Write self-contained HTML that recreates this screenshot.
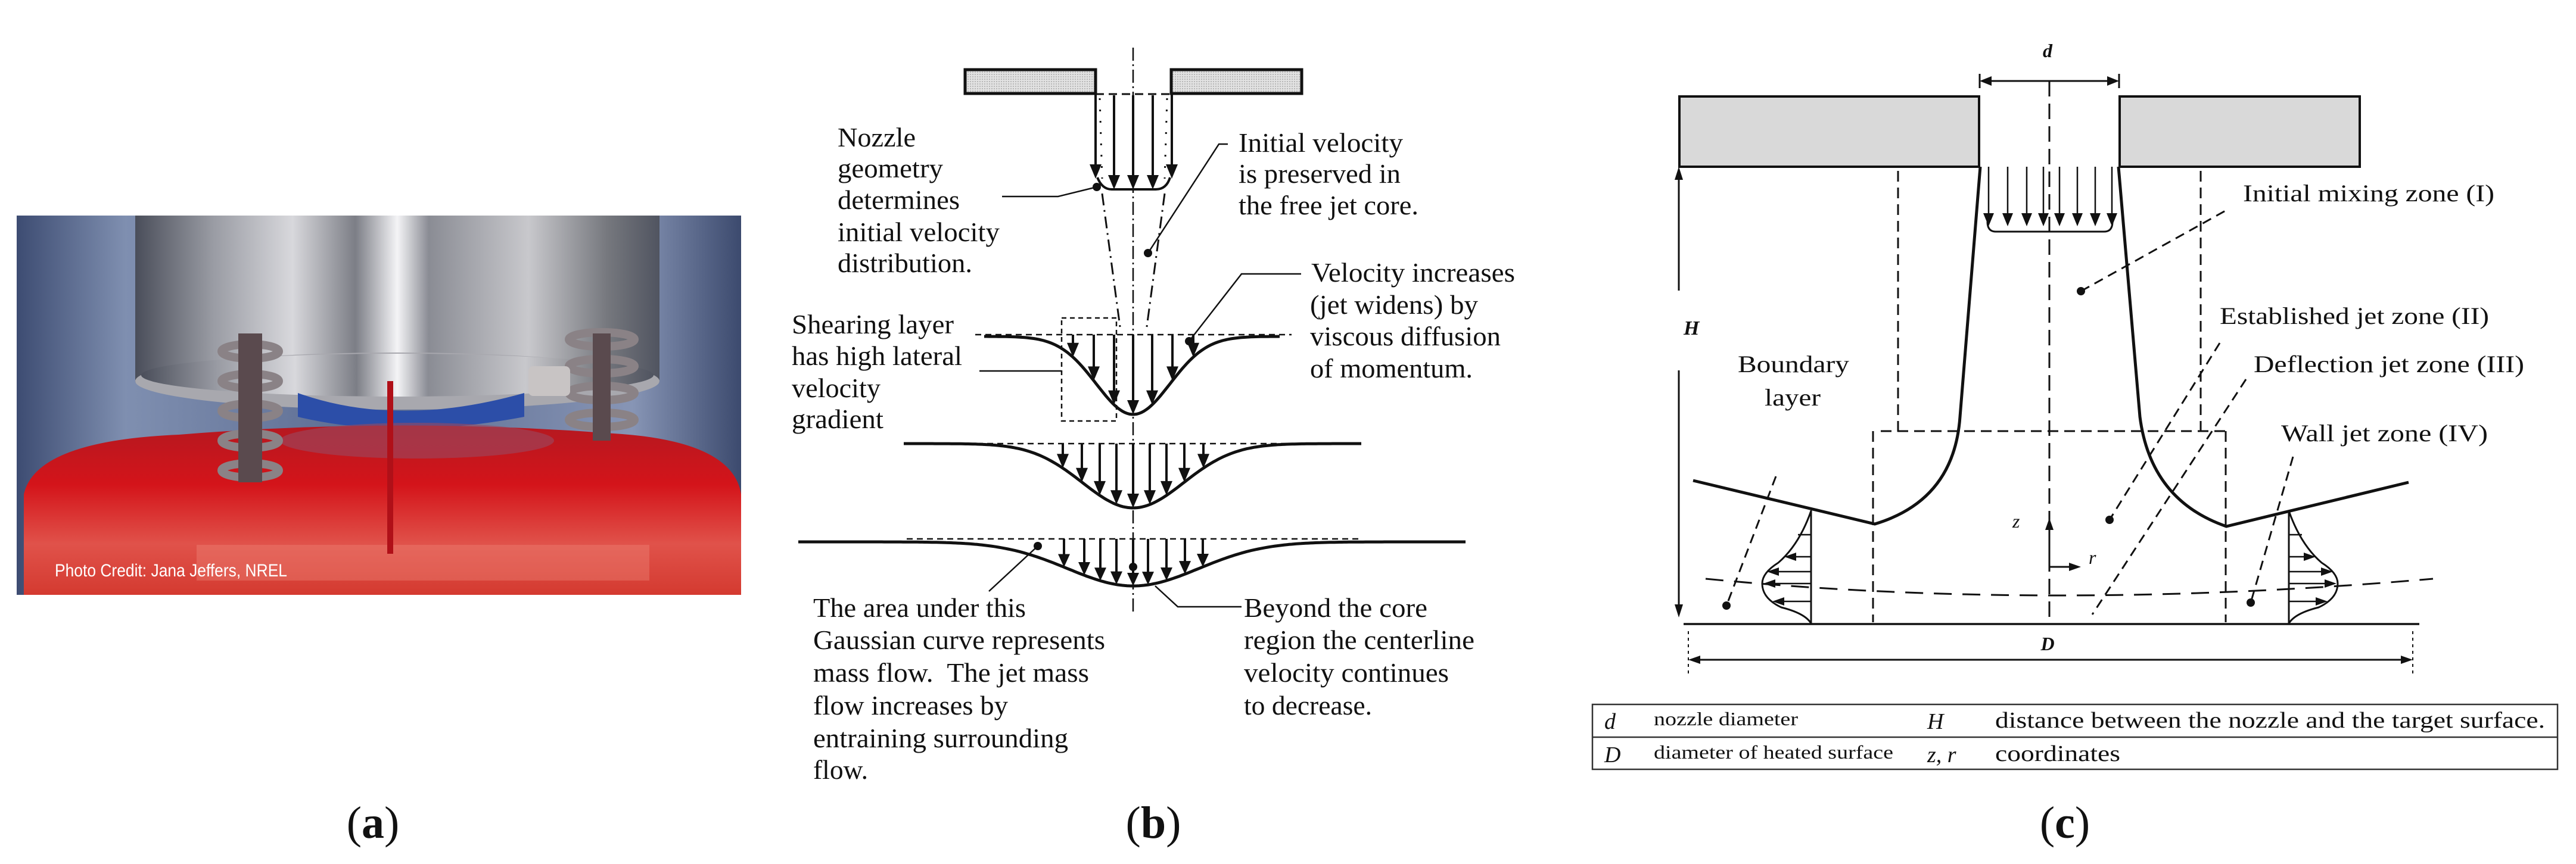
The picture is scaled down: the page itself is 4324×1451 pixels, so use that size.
<!DOCTYPE html>
<html><head><meta charset="utf-8">
<style>
html,body{margin:0;padding:0;background:#fff;}
svg{display:block;}
.s{font-family:"Liberation Serif",serif;fill:#111;}
</style></head>
<body>
<svg id="m" width="4324" height="1451" viewBox="0 0 4324 1451" xmlns="http://www.w3.org/2000/svg">
<defs>
<linearGradient id="bg" x1="0" x2="1" y1="0" y2="0">
<stop offset="0" stop-color="#3d4c72"/><stop offset="0.15" stop-color="#7f8fb0"/><stop offset="0.5" stop-color="#5a6a90"/><stop offset="0.85" stop-color="#8795b5"/><stop offset="1" stop-color="#3c4a6e"/></linearGradient>
<linearGradient id="cyl" x1="0" x2="1" y1="0" y2="0">
<stop offset="0" stop-color="#4a4e5a"/><stop offset="0.15" stop-color="#9a9ca4"/><stop offset="0.3" stop-color="#d8d8dc"/><stop offset="0.42" stop-color="#7c7e86"/><stop offset="0.5" stop-color="#f4f4f6"/><stop offset="0.56" stop-color="#8a8c94"/><stop offset="0.75" stop-color="#c8c8cc"/><stop offset="0.9" stop-color="#76787e"/><stop offset="1" stop-color="#505460"/></linearGradient>
<linearGradient id="red" x1="0" x2="0" y1="0" y2="1">
<stop offset="0" stop-color="#b51820"/><stop offset="0.35" stop-color="#d4141a"/><stop offset="0.7" stop-color="#e0524a"/><stop offset="1" stop-color="#d43a30"/></linearGradient>
<pattern id="dots" width="4" height="4" patternUnits="userSpaceOnUse"><rect width="4" height="4" fill="#e2e2e2"/><rect width="2" height="2" fill="#b8b8b8"/></pattern>
</defs>

<!-- (a) photo -->
<g>
<rect x="28" y="362" width="1216" height="637" fill="url(#bg)"/>
<rect x="227" y="362" width="880" height="280" fill="url(#cyl)"/>
<ellipse cx="667" cy="640" rx="440" ry="48" fill="#a8a8ae"/>
<ellipse cx="667" cy="630" rx="430" ry="36" fill="url(#cyl)"/>
<path d="M500,660 Q667,720 880,660 L880,700 Q667,740 500,700Z" fill="#2c4ea8"/>
<path d="M40,999 L40,830 Q60,740 300,730 Q667,700 1030,728 Q1230,740 1244,830 L1244,999Z" fill="url(#red)"/>
<ellipse cx="700" cy="740" rx="230" ry="30" fill="#9a4a60" opacity="0.6"/>
<rect x="330" y="915" width="760" height="60" fill="#f09080" opacity="0.35"/>
<g fill="none" stroke="#8a8286" stroke-width="14">
<ellipse cx="420" cy="590" rx="48" ry="12"/><ellipse cx="420" cy="640" rx="48" ry="12"/><ellipse cx="420" cy="690" rx="48" ry="12"/><ellipse cx="420" cy="740" rx="48" ry="12"/><ellipse cx="420" cy="790" rx="48" ry="12"/>
<ellipse cx="1010" cy="570" rx="55" ry="12"/><ellipse cx="1010" cy="615" rx="55" ry="12"/><ellipse cx="1010" cy="660" rx="55" ry="12"/><ellipse cx="1010" cy="705" rx="55" ry="12"/>
</g>
<rect x="400" y="560" width="40" height="250" fill="#5a4a4e"/>
<rect x="995" y="560" width="30" height="180" fill="#5a4a4e"/>
<rect x="887" y="615" width="70" height="50" rx="8" fill="#c8c4c4"/>
<rect x="650" y="640" width="10" height="290" fill="#b01018"/>
<text x="92" y="968" font-family="Liberation Sans,sans-serif" font-size="30" fill="#fff" textLength="390" lengthAdjust="spacingAndGlyphs">Photo Credit: Jana Jeffers, NREL</text>
</g>
<text class="s" x="626" y="1407" font-size="76" text-anchor="middle">(<tspan font-weight="bold">a</tspan>)</text>

<!-- (b) -->
<g id="b" stroke="#111" fill="none">
<rect x="1620" y="117" width="219" height="40" fill="url(#dots)" stroke-width="5"/>
<rect x="1966" y="117" width="219" height="40" fill="url(#dots)" stroke-width="5"/>
<line x1="1902" y1="80" x2="1902" y2="1032" stroke-width="2.5" stroke-dasharray="22 6 3 6"/>
<line x1="1839" y1="158" x2="1966" y2="158" stroke-width="3" stroke-dasharray="14 8"/>
<line x1="1846" y1="165" x2="1850" y2="300" stroke-width="3" stroke-dasharray="3 16"/>
<line x1="1959" y1="165" x2="1955" y2="300" stroke-width="3" stroke-dasharray="3 16"/>
<path d="M1842,298 Q1850,318 1866,318 L1940,318 Q1958,318 1964,298" stroke-width="4"/>
<line x1="1850" y1="325" x2="1881" y2="556" stroke-width="3" stroke-dasharray="20 8 3 8"/>
<line x1="1955" y1="325" x2="1924" y2="556" stroke-width="3" stroke-dasharray="20 8 3 8"/>
<rect x="1782" y="534" width="92" height="173" stroke-width="2.5" stroke-dasharray="8 6"/>
<polyline points="1682,330 1776,330 1841,314" stroke-width="2.5"/>
<polyline points="2061,242 2046,242 1927,425" stroke-width="2.5"/>
<polyline points="2184,460 2084,460 1996,573" stroke-width="2.5"/>
<line x1="1644" y1="623" x2="1782" y2="623" stroke-width="2.5"/>
<line x1="1660" y1="993" x2="1742" y2="917" stroke-width="2.5"/>
<polyline points="2084,1019 1977,1019 1939,984" stroke-width="2.5"/>
</g>
<g fill="#111">
<circle cx="1841" cy="314" r="7"/><circle cx="1927" cy="425" r="7"/><circle cx="1996" cy="573" r="7"/><circle cx="1742" cy="917" r="7"/><circle cx="1902" cy="952" r="7"/>
</g>
<g class="s" font-size="46">
<text x="1406" y="246" textLength="131" lengthAdjust="spacingAndGlyphs">Nozzle</text>
<text x="1406" y="298" textLength="177" lengthAdjust="spacingAndGlyphs">geometry</text>
<text x="1406" y="351" textLength="205" lengthAdjust="spacingAndGlyphs">determines</text>
<text x="1406" y="405" textLength="272" lengthAdjust="spacingAndGlyphs">initial velocity</text>
<text x="1406" y="457" textLength="226" lengthAdjust="spacingAndGlyphs">distribution.</text>
<text x="2079" y="255" textLength="276" lengthAdjust="spacingAndGlyphs">Initial velocity</text>
<text x="2079" y="307" textLength="272" lengthAdjust="spacingAndGlyphs">is preserved in</text>
<text x="2079" y="360" textLength="302" lengthAdjust="spacingAndGlyphs">the free jet core.</text>
<text x="2201" y="473" textLength="342" lengthAdjust="spacingAndGlyphs">Velocity increases</text>
<text x="2199" y="527" textLength="282" lengthAdjust="spacingAndGlyphs">(jet widens) by</text>
<text x="2199" y="580" textLength="320" lengthAdjust="spacingAndGlyphs">viscous diffusion</text>
<text x="2199" y="634" textLength="273" lengthAdjust="spacingAndGlyphs">of momentum.</text>
<text x="1329" y="560" textLength="272" lengthAdjust="spacingAndGlyphs">Shearing layer</text>
<text x="1329" y="613" textLength="286" lengthAdjust="spacingAndGlyphs">has high lateral</text>
<text x="1329" y="667" textLength="149" lengthAdjust="spacingAndGlyphs">velocity</text>
<text x="1329" y="719" textLength="154" lengthAdjust="spacingAndGlyphs">gradient</text>
<text x="1365" y="1036" textLength="357" lengthAdjust="spacingAndGlyphs">The area under this</text>
<text x="1365" y="1090" textLength="490" lengthAdjust="spacingAndGlyphs">Gaussian curve represents</text>
<text x="1365" y="1145" textLength="463" lengthAdjust="spacingAndGlyphs" xml:space="preserve">mass flow.  The jet mass</text>
<text x="1365" y="1200" textLength="327" lengthAdjust="spacingAndGlyphs">flow increases by</text>
<text x="1365" y="1255" textLength="428" lengthAdjust="spacingAndGlyphs">entraining surrounding</text>
<text x="1365" y="1308" textLength="92" lengthAdjust="spacingAndGlyphs">flow.</text>
<text x="2088" y="1036" textLength="308" lengthAdjust="spacingAndGlyphs">Beyond the core</text>
<text x="2088" y="1090" textLength="387" lengthAdjust="spacingAndGlyphs">region the centerline</text>
<text x="2088" y="1145" textLength="344" lengthAdjust="spacingAndGlyphs">velocity continues</text>
<text x="2088" y="1200" textLength="215" lengthAdjust="spacingAndGlyphs">to decrease.</text>
</g>
<text class="s" x="1936" y="1407" font-size="76" text-anchor="middle">(<tspan font-weight="bold">b</tspan>)</text>

<!-- (c) -->
<g stroke="#111" fill="none">
<rect x="2819" y="162" width="503" height="118" fill="#d9d9d9" stroke-width="4"/>
<rect x="3558" y="162" width="403" height="118" fill="#d9d9d9" stroke-width="4"/>
<line x1="3323" y1="124" x2="3323" y2="148" stroke-width="3"/>
<line x1="3557" y1="124" x2="3557" y2="148" stroke-width="3"/>
<line x1="3440" y1="136" x2="3440" y2="1046" stroke-width="3" stroke-dasharray="26 12"/>
<line x1="3186" y1="287" x2="3186" y2="727" stroke-width="3" stroke-dasharray="18 10"/>
<line x1="3694" y1="287" x2="3694" y2="727" stroke-width="3" stroke-dasharray="18 10"/>
<line x1="3157" y1="724" x2="3736" y2="724" stroke-width="3" stroke-dasharray="18 10"/>
<line x1="3144" y1="724" x2="3144" y2="1045" stroke-width="3" stroke-dasharray="18 10"/>
<line x1="3736" y1="724" x2="3736" y2="1045" stroke-width="3" stroke-dasharray="18 10"/>
<path d="M3324,280 L3290,700 Q3280,840 3147,880 L2842,807" stroke-width="5"/>
<path d="M3556,280 L3592,700 Q3610,840 3737,884 L4043,810" stroke-width="5"/>
<line x1="2826" y1="1048" x2="4061" y2="1048" stroke-width="3.5"/>
<line x1="2834" y1="1060" x2="2834" y2="1136" stroke-width="2" stroke-dasharray="5 6"/>
<line x1="4050" y1="1060" x2="4050" y2="1136" stroke-width="2" stroke-dasharray="5 6"/>
<line x1="2850" y1="1108" x2="4034" y2="1108" stroke-width="3"/>
<line x1="3340" y1="136" x2="3540" y2="136" stroke-width="3"/>
<line x1="2818" y1="300" x2="2818" y2="488" stroke-width="3"/>
<line x1="2818" y1="622" x2="2818" y2="1022" stroke-width="3"/>
<path d="M2863,972 Q3440,1028 4084,972" stroke-width="3" stroke-dasharray="30 18"/>
<path d="M3336,372 Q3336,389 3350,389 L3532,389 Q3546,389 3546,372" stroke-width="3"/>
<line x1="3040" y1="857" x2="3040" y2="1048" stroke-width="3"/>
<path d="M3040,858 Q3020,915 2985,945 Q2958,962 2958,980 Q2958,1005 2990,1020 Q3030,1030 3040,1047" stroke-width="3"/>
<line x1="3842" y1="857" x2="3842" y2="1048" stroke-width="3"/>
<path d="M3842,858 Q3862,915 3897,945 Q3924,962 3924,980 Q3924,1005 3892,1020 Q3852,1030 3842,1047" stroke-width="3"/>
<line x1="3440" y1="952" x2="3440" y2="885" stroke-width="3"/>
<line x1="3440" y1="952" x2="3480" y2="952" stroke-width="3"/>
<line x1="3493" y1="489" x2="3739" y2="352" stroke-width="3" stroke-dasharray="16 10"/>
<line x1="3726" y1="576" x2="3541" y2="873" stroke-width="3" stroke-dasharray="16 10"/>
<line x1="3770" y1="637" x2="3512" y2="1032" stroke-width="3" stroke-dasharray="16 10"/>
<line x1="3849" y1="767" x2="3778" y2="1012" stroke-width="3" stroke-dasharray="16 10"/>
<line x1="2981" y1="800" x2="2898" y2="1017" stroke-width="3" stroke-dasharray="16 10"/>
</g>
<g id="carr" fill="#111" stroke="#111"></g>
<g fill="#111">
<circle cx="3493" cy="489" r="7"/><circle cx="3541" cy="873" r="7"/><circle cx="2898" cy="1017" r="7"/><circle cx="3778" cy="1012" r="7"/>
<polygon points="3323,136 3343,128 3343,144"/><polygon points="3557,136 3537,128 3537,144"/>
<polygon points="2834,1108 2854,1101 2854,1115"/><polygon points="4050,1108 4030,1101 4030,1115"/>
<polygon points="2818,280 2811,302 2825,302"/><polygon points="2818,1037 2811,1015 2825,1015"/>
<polygon points="3440,870 3433,890 3447,890"/><polygon points="3493,952 3473,945 3473,959"/>
</g>
<g class="s" font-size="40">
<text x="3437" y="96" font-size="32" font-style="italic" font-weight="bold" text-anchor="middle">d</text>
<text x="2826" y="562" font-size="34" font-style="italic" font-weight="bold">H</text>
<text x="3437" y="1092" font-size="32" font-style="italic" font-weight="bold" text-anchor="middle">D</text>
<text x="3378" y="886" font-size="32" font-style="italic">z</text>
<text x="3506" y="947" font-size="32" font-style="italic">r</text>
<text x="3765" y="338" textLength="422" lengthAdjust="spacingAndGlyphs">Initial mixing zone (I)</text>
<text x="3726" y="544" textLength="452" lengthAdjust="spacingAndGlyphs">Established jet zone (II)</text>
<text x="3783" y="625" textLength="454" lengthAdjust="spacingAndGlyphs">Deflection jet zone (III)</text>
<text x="3829" y="741" textLength="347" lengthAdjust="spacingAndGlyphs">Wall jet zone (IV)</text>
<text x="2917" y="625" textLength="187" lengthAdjust="spacingAndGlyphs">Boundary</text>
<text x="2962" y="681" textLength="94" lengthAdjust="spacingAndGlyphs">layer</text>
</g>
<g stroke="#333" fill="none" stroke-width="2.5">
<rect x="2673" y="1183" width="1620" height="109"/>
<line x1="2673" y1="1238" x2="4293" y2="1238"/>
</g>
<g class="s">
<text x="2693" y="1224" font-size="38" font-style="italic">d</text>
<text x="2776" y="1218" font-size="32" textLength="242" lengthAdjust="spacingAndGlyphs">nozzle diameter</text>
<text x="3235" y="1224" font-size="38" font-style="italic">H</text>
<text x="3349" y="1222" font-size="38" textLength="923" lengthAdjust="spacingAndGlyphs">distance between the nozzle and the target surface.</text>
<text x="2693" y="1280" font-size="38" font-style="italic">D</text>
<text x="2776" y="1274" font-size="32" textLength="402" lengthAdjust="spacingAndGlyphs">diameter of heated surface</text>
<text x="3235" y="1280" font-size="38" font-style="italic">z, r</text>
<text x="3349" y="1278" font-size="38" textLength="210" lengthAdjust="spacingAndGlyphs">coordinates</text>
</g>
<text class="s" x="3466" y="1407" font-size="76" text-anchor="middle">(<tspan font-weight="bold">c</tspan>)</text>
<g id="barr" fill="#111" stroke="#111"></g>
</svg>
<script>
(function(){
var NS="http://www.w3.org/2000/svg";
function el(p,t,a){var e=document.createElementNS(NS,t);for(var k in a)e.setAttribute(k,a[k]);p.appendChild(e);return e;}
var B=document.getElementById("barr"),C=document.getElementById("carr");
function down(g,x,y1,y2,w,h,sw){el(g,"line",{x1:x,y1:y1,x2:x,y2:y2-h+2,"stroke-width":sw});el(g,"polygon",{points:(x-w)+","+(y2-h)+" "+(x+w)+","+(y2-h)+" "+x+","+y2,stroke:"none"});}
function horiz(g,y,x1,x2,w,h,sw){var d=x2>x1?1:-1;el(g,"line",{x1:x1,y1:y,x2:x2-d*h,y2:y,"stroke-width":sw});el(g,"polygon",{points:(x2-d*h)+","+(y-w)+" "+(x2-d*h)+","+(y+w)+" "+x2+","+y,stroke:"none"});}
// nozzle arrows (b)
down(B,1839,158,300,10,24,4);down(B,1967,158,300,10,24,4);
[1870,1902,1935].forEach(function(x){down(B,x,160,318,10,24,4);});
// gaussians
function gauss(x0,x1,c,top,base,depth,sig,dash){
 var d="";for(var x=x0;x<=x1;x+=4){var y=base+(top+depth-base)*Math.exp(-Math.pow(x-c,2)/(2*sig*sig));d+=(x==x0?"M":"L")+x+","+y.toFixed(1);}
 el(B,"path",{d:d,fill:"none","stroke-width":5});
 el(B,"line",{x1:dash[0],y1:top,x2:dash[1],y2:top,"stroke-width":2.5,"stroke-dasharray":"10 7"});
 return function(x){return base+(top+depth-base)*Math.exp(-Math.pow(x-c,2)/(2*sig*sig));};
}
var f1=gauss(1652,2149,1902,562,565,134,62,[1637,2168]);
[-101,-66,-32,0,32,66,101].forEach(function(dx){var x=1902+dx;down(B,x,562,f1(x),10,24,4);});
var f2=gauss(1517,2287,1902,745,745,108,85,[1640,2170]);
[-118,-86,-56,-28,0,28,56,86,118].forEach(function(dx){var x=1902+dx;down(B,x,745,f2(x),10,24,4);});
var f3=gauss(1340,2463,1902,905,910,79,110,[1522,2283]);
[-116,-82,-55,-28,0,25,56,87,117].forEach(function(dx){var x=1902+dx;down(B,x,905,f3(x),10,22,4);});
// (c) nozzle arrows
[3338,3370,3402,3430,3457,3487,3517,3545].forEach(function(x){down(C,x,280,380,9,22,2.5);});
// wall profile arrows
[[935,2995],[960,2966],[980,2960],[1010,2975]].forEach(function(p){horiz(C,p[0],3040,p[1],7,20,2.5);});
el(C,"line",{x1:3040,y1:898,x2:3018,y2:898,"stroke-width":2.5});
[[935,3887],[960,3916],[980,3922],[1010,3907]].forEach(function(p){horiz(C,p[0],3842,p[1],7,20,2.5);});
el(C,"line",{x1:3842,y1:898,x2:3864,y2:898,"stroke-width":2.5});
})();
</script>
</body></html>
